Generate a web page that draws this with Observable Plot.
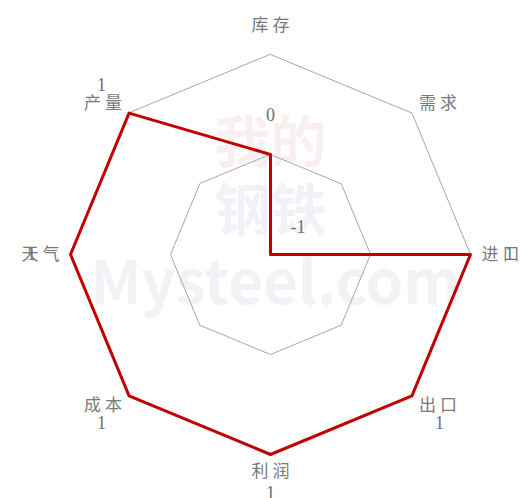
<!DOCTYPE html>
<html><head><meta charset="utf-8">
<script src="https://cdn.jsdelivr.net/npm/d3@7"></script>
<script src="https://cdn.jsdelivr.net/npm/@observablehq/plot@0.6"></script>
<style>body{margin:0;background:#fff} .cat text{letter-spacing:4px}</style>
</head><body><div id="chart"></div>
<script>
const categories = ["库存", "需求", "进口", "出口", "利润", "成本", "天气", "产量"];
const values = [0, -1, 1, 1, 1, 1, 1, 1];
const gridLevels = [0, 1];
const minValue = -1;

const n = categories.length;
const ang = i => i * 2 * Math.PI / n;
const pt = (i, v) => ({x: (v - minValue) * Math.sin(ang(i)), y: (v - minValue) * Math.cos(ang(i))});

const series = categories.map((c, i) => ({cat: c, value: values[i], ...pt(i, values[i])}));
const grid = gridLevels.flatMap(l => categories.map((c, i) => ({level: l, ...pt(i, l)})));
const catLabels = categories.map((c, i) => {
  const s = Math.sin(ang(i)), co = Math.cos(ang(i));
  const ry = Math.abs(co) > 0.9 ? (co > 0 ? 2.29 : 2.17) : 2.13;
  const rx = Math.abs(s) > 0.9 ? 2.3 : 2.37;
  return {cat: c, x: rx * s, y: ry * co};
});
const valLabels = series.map((d, i) => {
  const r = d.value - minValue + 0.39;
  return {label: String(d.value), x: r * Math.sin(ang(i)), y: r * Math.cos(ang(i))};
});

const font = "'Noto Sans CJK SC', 'DejaVu Sans', sans-serif";
const chart = Plot.plot({
  width: 523, height: 498,
  margin: 0,
  x: {domain: [-2.70, 2.53], axis: null},
  y: {domain: [-2.44, 2.54], axis: null},
  style: {fontFamily: font, background: "#fff"},
  marks: [
    Plot.text(["Mysteel.com"], {x: 0.05, y: -0.3, text: d => d, fontSize: 60, fill: "#f1f2f5", fontWeight: "bold"}),
    Plot.text(["我的"], {x: 0.0, y: 1.1, text: d => d, fontSize: 56, fill: "#f9eef0", fontWeight: "bold"}),
    Plot.text(["钢铁"], {x: 0.0, y: 0.42, text: d => d, fontSize: 56, fill: "#f1f2f7", fontWeight: "bold"}),
    Plot.line(grid, {x: "x", y: "y", z: "level", curve: "linear-closed", stroke: "#a6a6a6", strokeWidth: 1}),
    Plot.line(series, {x: "x", y: "y", curve: "linear-closed", stroke: "#c00000", strokeWidth: 3}),
    Plot.text(catLabels, {x: "x", y: "y", text: "cat", fontSize: 17, fill: "#7a7a7a", className: "cat", dx: 2}),
    Plot.text(valLabels, {x: "x", y: "y", text: "label", fontSize: 18, fill: "#6e6e6e", fontFamily: "'Liberation Serif', serif"})
  ]
});
document.getElementById("chart").append(chart);
</script>
</body></html>
